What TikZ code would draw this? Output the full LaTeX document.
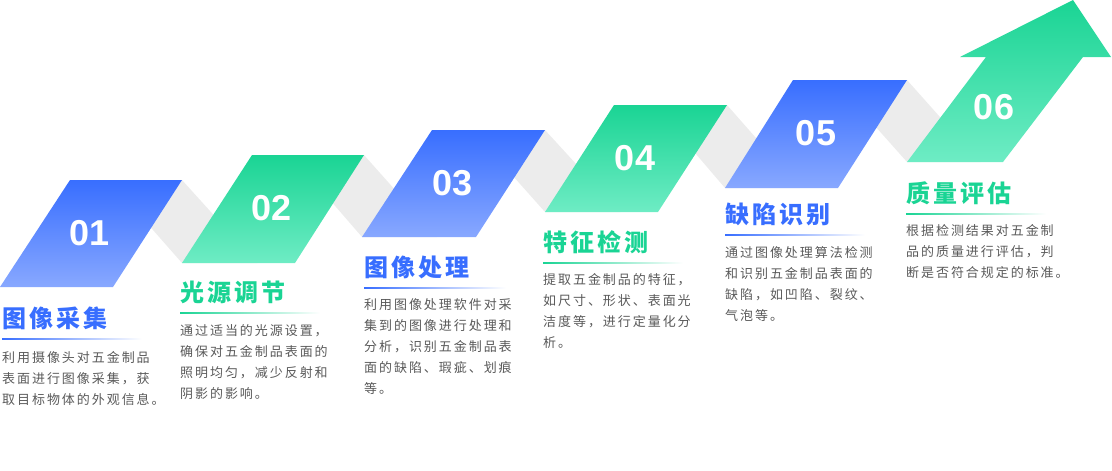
\documentclass[tikz,border=0pt]{standalone}
\usepackage{fontspec}
\usepackage{xcolor}
\usepackage{tikz}
\setmainfont{Liberation Sans}
\newfontfamily\cjkbody[LetterSpace=15]{Noto Sans CJK SC}
\newfontfamily\cjktitle[LetterSpace=13]{Noto Sans CJK SC}
\definecolor{stepblue}{HTML}{386EFF}
\definecolor{stepbluelight}{HTML}{88A8FF}
\definecolor{stepgreen}{HTML}{1AD494}
\definecolor{stepgreenlight}{HTML}{6EECC4}
\definecolor{bandgray}{HTML}{ECECEC}
\definecolor{textgray}{HTML}{595959}

\begin{document}
\begin{tikzpicture}[x=1pt, y=-1pt,
    band/.style={fill=bandgray},
    bluestep/.style={top color=stepblue, middle color=stepblue, bottom color=stepbluelight},
    greenstep/.style={top color=stepgreen, middle color=stepgreen, bottom color=stepgreenlight},
    num/.style={inner sep=0pt, font=\bfseries\fontsize{36}{36}\selectfont, color=white},
    title/.style={anchor=west, inner sep=0pt, font=\cjktitle\bfseries\fontsize{24}{24}\selectfont, color=#1},
    rule/.style={left color=#1, right color=white},
    desc/.style={anchor=north west, inner sep=0pt, align=left,
                 font=\cjkbody\fontsize{13}{21}\selectfont, color=textgray}
]
\useasboundingbox (0,0) rectangle (1112,471);

% grey ribbon behind the steps
\fill[band] (109,180) -- (182,180) -- (257,263) -- (182,263) -- cycle;
\fill[band] (291,155) -- (364,155) -- (437,237) -- (362,237) -- cycle;
\fill[band] (472,130) -- (545,130) -- (620,212) -- (545,212) -- cycle;
\fill[band] (654,105) -- (727,105) -- (800,188) -- (725,188) -- cycle;
\fill[band] (834,80) -- (907,80) -- (980,162) -- (907,162) -- cycle;

% steps
\shade[bluestep]  (0,287) -- (113,287) -- (182,180) -- (70,180) -- cycle;
\shade[greenstep] (182,263) -- (295,263) -- (364,155) -- (252,155) -- cycle;
\shade[bluestep]  (362,237) -- (476,237) -- (545,130) -- (432,130) -- cycle;
\shade[greenstep] (545,212) -- (658,212) -- (727,105) -- (614,105) -- cycle;
\shade[bluestep]  (725,188) -- (838,188) -- (907,80) -- (793,80) -- cycle;
\shade[greenstep] (907,162) -- (1003,162) -- (1083,57) -- (1111,57) -- (1073,0)
    -- (960,57) -- (986,57) -- cycle;

\node[num] (num1) at (90,233) {01};
\node[num] (num2) at (272,208) {02};
\node[num] (num3) at (453,183) {03};
\node[num] (num4) at (635,158) {04};
\node[num] (num5) at (816,133) {05};
\node[num] (num6) at (994,107) {06};

% titles and underlines
\node[title=stepblue]  (title1) at (2,318)   {图像采集};
\node[title=stepgreen] (title2) at (180,292) {光源调节};
\node[title=stepblue]  (title3) at (364,267) {图像处理};
\node[title=stepgreen] (title4) at (543,242) {特征检测};
\node[title=stepblue]  (title5) at (725,214) {缺陷识别};
\node[title=stepgreen] (title6) at (906,193) {质量评估};

\shade[rule=stepblue]  (2,338.4)   rectangle (142,339.6);
\shade[rule=stepgreen] (180,312.4) rectangle (320,313.6);
\shade[rule=stepblue]  (364,287.4) rectangle (506,288.6);
\shade[rule=stepgreen] (543,262.4) rectangle (683,263.6);
\shade[rule=stepblue]  (725,234.4) rectangle (865,235.6);
\shade[rule=stepgreen] (906,213.4) rectangle (1046,214.6);

% descriptions
\node[desc] (desc1) at (2,351)
    {利用摄像头对五金制品\\表面进行图像采集，获\\取目标物体的外观信息。};
\node[desc] (desc2) at (180,324)
    {通过适当的光源设置，\\确保对五金制品表面的\\照明均匀，减少反射和\\阴影的影响。};
\node[desc] (desc3) at (364,298)
    {利用图像处理软件对采\\集到的图像进行处理和\\分析，识别五金制品表\\面的缺陷、瑕疵、划痕\\等。};
\node[desc] (desc4) at (543,273)
    {提取五金制品的特征，\\如尺寸、形状、表面光\\洁度等，进行定量化分\\析。};
\node[desc] (desc5) at (725,246)
    {通过图像处理算法检测\\和识别五金制品表面的\\缺陷，如凹陷、裂纹、\\气泡等。};
\node[desc] (desc6) at (906,224)
    {根据检测结果对五金制\\品的质量进行评估，判\\断是否符合规定的标准。};
\end{tikzpicture}
\end{document}
